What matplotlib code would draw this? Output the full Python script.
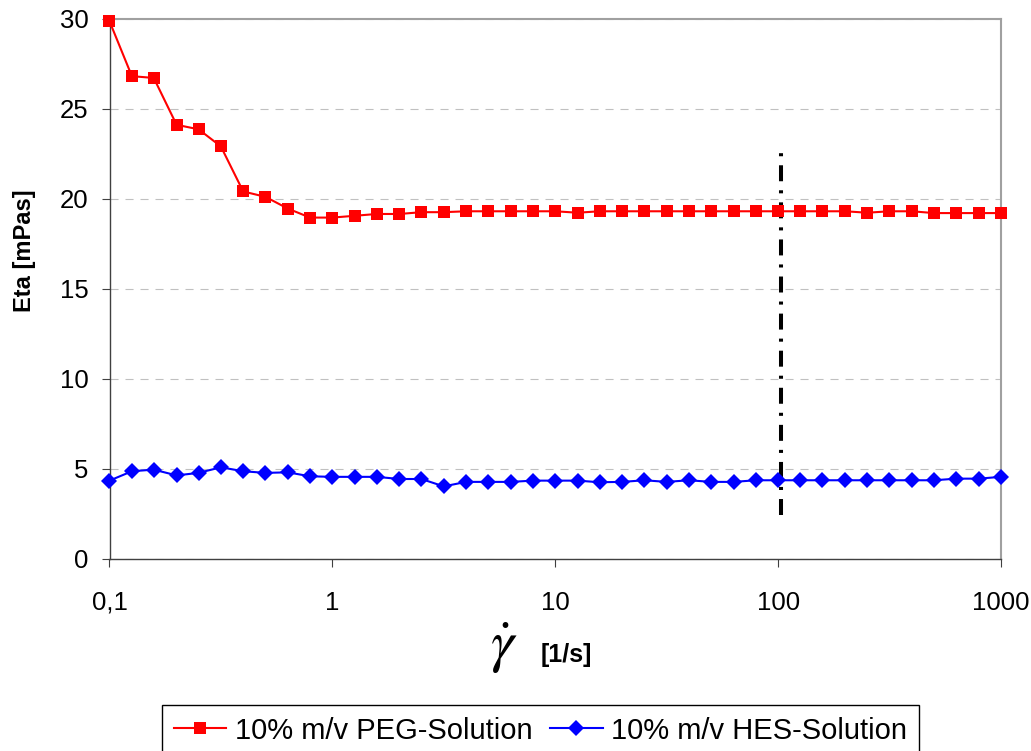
import matplotlib
matplotlib.use("Agg")
import matplotlib.pyplot as plt
from matplotlib.ticker import FixedLocator, FixedFormatter, NullLocator

plt.rcParams['font.family'] = ['Liberation Sans', 'DejaVu Sans']
plt.rcParams['lines.scale_dashes'] = False

# Data
shear_rate = [0.1, 0.126, 0.158, 0.2, 0.251, 0.316, 0.398, 0.501, 0.631, 0.794,
              1, 1.26, 1.58, 2, 2.51, 3.16, 3.98, 5.01, 6.31, 7.94,
              10, 12.6, 15.8, 20, 25.1, 31.6, 39.8, 50.1, 63.1, 79.4,
              100, 126, 158, 200, 251, 316, 398, 501, 631, 794, 1000]
peg = [29.85, 26.8, 26.7, 24.1, 23.85, 22.9, 20.4, 20.1, 19.45, 18.95,
       18.95, 19.05, 19.15, 19.15, 19.25, 19.25, 19.3, 19.3, 19.3, 19.3,
       19.3, 19.22, 19.3, 19.3, 19.3, 19.3, 19.3, 19.3, 19.3, 19.3,
       19.3, 19.3, 19.3, 19.3, 19.22, 19.3, 19.3, 19.2, 19.2, 19.2, 19.2]
hes = [4.35, 4.87, 4.96, 4.64, 4.78, 5.09, 4.87, 4.78, 4.81, 4.59,
       4.56, 4.56, 4.56, 4.44, 4.44, 4.03, 4.28, 4.28, 4.28, 4.35,
       4.35, 4.35, 4.26, 4.28, 4.37, 4.28, 4.37, 4.28, 4.28, 4.37,
       4.37, 4.37, 4.37, 4.37, 4.37, 4.37, 4.37, 4.37, 4.46, 4.46, 4.56]
series_labels = ['10% m/v PEG-Solution', '10% m/v HES-Solution']
x_ticks = [0.1, 1, 10, 100, 1000]
x_tick_labels = ['0,1', '1', '10', '100', '1000']
y_ticks = [0, 5, 10, 15, 20, 25, 30]
marker_x = 103
marker_y = [2.44, 22.9]

W, H = 1031, 751
fig = plt.figure(figsize=(W / 100, H / 100), dpi=100)
ax = fig.add_axes([109.5 / W, 1 - 559 / H, 891.5 / W, 540.5 / H])

l1, = ax.plot(shear_rate, peg, color='#ff0000', lw=1.5, marker='s', ms=8.5,
              markeredgewidth=0, clip_on=False, zorder=4, label=series_labels[0])
l2, = ax.plot(shear_rate, hes, color='#0000ff', lw=1.5, marker='D', ms=7.8,
              markeredgewidth=0, clip_on=False, zorder=4, label=series_labels[1])

ax.plot([marker_x, marker_x], marker_y, color='black', lw=2.9,
        linestyle=(0, (11.5, 6.5, 2.2, 6.5)), zorder=3)

ax.set_xscale('log')
ax.set_xlim(0.1, 1000)
ax.set_ylim(0, 30)
ax.xaxis.set_major_locator(FixedLocator(x_ticks))
ax.xaxis.set_major_formatter(FixedFormatter(x_tick_labels))
ax.xaxis.set_minor_locator(NullLocator())
ax.set_yticks(y_ticks)
ax.set_yticklabels([str(v) for v in y_ticks])

ax.yaxis.grid(True, color='#c0c0c0', lw=0.8, linestyle=(0, (5.8, 5.0)))
ax.set_axisbelow(True)

for side in ['top', 'right']:
    ax.spines[side].set_color('#a0a0a0')
    ax.spines[side].set_linewidth(1.5)
for side in ['left', 'bottom']:
    ax.spines[side].set_color('#404040')
    ax.spines[side].set_linewidth(1.0)

ax.tick_params(axis='both', direction='out', length=6, width=0.8, color='#404040',
               labelsize=18.5, labelcolor='black')
ax.tick_params(axis='x', pad=17)
ax.tick_params(axis='y', pad=9)

fig.text(24 / W, 1 - 251 / H, 'Eta [mPas]', rotation=90, ha='center', va='center',
         fontsize=17, fontweight='bold')
fig.text(504 / W, 1 - 648 / H, r'$\dot{\gamma}$', ha='center', va='center',
         fontsize=42, math_fontfamily='stix')
fig.text(566 / W, 1 - 655 / H, '[1/s]', ha='center', va='center',
         fontsize=18, fontweight='bold')

leg = fig.legend(handles=[l1, l2], loc='upper center',
                 bbox_to_anchor=(540.5 / W, 1 - 705 / H), ncol=2, fontsize=21,
                 frameon=True, fancybox=False, edgecolor='black', framealpha=1,
                 handlelength=1.8, handletextpad=0.3, columnspacing=0.6,
                 borderpad=0.4, numpoints=1, borderaxespad=0)
leg.get_frame().set_linewidth(1.0)

fig.savefig('out.png', dpi=100)
